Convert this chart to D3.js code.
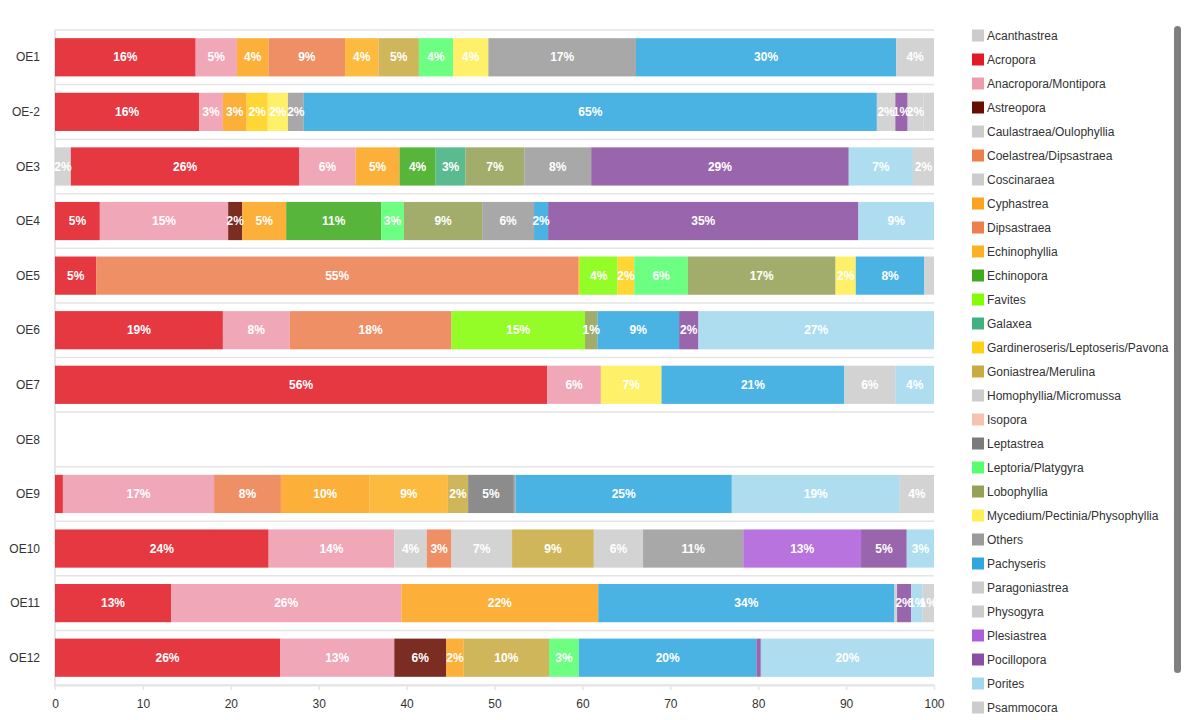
<!DOCTYPE html>
<html><head><meta charset="utf-8">
<script src="https://cdn.jsdelivr.net/npm/d3@7"></script>
<style>
html,body{margin:0;padding:0;background:#fff;}
svg{display:block;font-family:"Liberation Sans",Arial,sans-serif;}
</style></head>
<body>
<svg id="chart" width="1188" height="720"></svg>
<script>
const sites = ["OE1","OE-2","OE3","OE4","OE5","OE6","OE7","OE8","OE9","OE10","OE11","OE12"];
const species = ["Acanthastrea","Acropora","Anacropora/Montipora","Astreopora","Caulastraea/Oulophyllia",
  "Coelastrea/Dipsastraea","Coscinaraea","Cyphastrea","Dipsastraea","Echinophyllia","Echinopora","Favites",
  "Galaxea","Gardineroseris/Leptoseris/Pavona","Goniastrea/Merulina","Homophyllia/Micromussa","Isopora",
  "Leptastrea","Leptoria/Platygyra","Lobophyllia","Mycedium/Pectinia/Physophyllia","Others","Pachyseris",
  "Paragoniastrea","Physogyra","Plesiastrea","Pocillopora","Porites","Psammocora","Turbinaria"];
const colors = ["#cccccc","#e11a25","#ee9baf","#670e03","#cccccc",
  "#ed7e4e","#cccccc","#fba41d","#ed7e4e","#fcb121","#3eaa1f","#84fc06",
  "#42b181","#ffd016","#c8ab42","#cccccc","#f4c4b0",
  "#7b7b7b","#57ff6f","#94a156","#ffee54","#9b9b9b","#30a8df",
  "#cccccc","#cccccc","#ae5ed9","#8a4fa2","#a2d8ee","#cccccc","#cccccc"];
// share (%) per species, in site order OE1 ... OE12
const shares = [
  [0,0,1.8,0,0,0,0,0,0,0,0,0],              // Acanthastrea
  [16.0,16.4,26.0,5.1,4.7,19.1,56.0,0,0.9,24.3,13.2,25.6], // Acropora
  [4.7,2.7,6.4,14.6,0,7.6,6.1,0,17.2,14.3,26.2,13.0],     // Anacropora/Montipora
  [0,0,0,1.6,0,0,0,0,0,0,0,5.9],            // Astreopora
  [0,0,0,0,0,0,0,0,0,3.7,0,0],              // Caulastraea/Oulophyllia
  [0,0,0,0,0,0,0,0,7.6,2.8,0,0],            // Coelastrea/Dipsastraea
  [0,0,0,0,0,0,0,0,0,6.9,0,0],              // Coscinaraea
  [3.6,2.7,5.0,5.0,0,0,0,0,10.1,0,22.4,2.0],// Cyphastrea
  [8.7,0,0,0,54.8,18.4,0,0,0,0,0,0],        // Dipsastraea
  [3.8,0,0,0,0.2,0,0,0,8.9,0,0,0],          // Echinophyllia
  [0,0,4.1,10.8,0,0,0,0,0,0,0,0],           // Echinopora
  [0,0,0,0,4.3,15.2,0,0,0,0,0,0],           // Favites
  [0,0,3.4,0,0,0,0,0,0,0,0,0],              // Galaxea
  [0,2.4,0,0,1.9,0,0,0,0,0,0,0],            // Gardineroseris
  [4.6,0,0,0,0,0,0,0,2.3,9.3,0,9.7],        // Goniastrea/Merulina
  [0,0,0,0,0,0,0,0,0,5.6,0,0],              // Homophyllia/Micromussa
  [0,0,0,0,0,0,0,0,0,0,0,0],                // Isopora
  [0,0,0,0,0,0,0,0,5.2,0,0,0],              // Leptastrea
  [3.9,0,0,2.6,6.1,0,0,0,0,0,0,3.4],        // Leptoria/Platygyra
  [0,0,6.7,8.9,16.8,1.4,0,0,0,0,0,0],       // Lobophyllia
  [4.0,2.3,0,0,2.3,0,6.9,0,0,0,0,0],        // Mycedium
  [16.8,1.8,7.6,5.9,0,0,0,0,0.2,11.4,0,0],  // Others
  [29.6,65.2,0,1.6,7.8,9.3,20.8,0,24.6,0,33.7,20.2], // Pachyseris
  [0,2.1,0,0,1.1,0,0,0,0,0,0.3,0],          // Paragoniastrea
  [0,0,0,0,0,0,5.8,0,0,0,0,0],              // Physogyra
  [0,0,0,0,0,0,0,0,0,13.4,0,0],             // Plesiastrea
  [0,1.4,29.3,35.3,0,2.2,0,0,0,5.2,1.6,0.5],// Pocillopora
  [0,0,7.3,8.6,0,26.8,4.4,0,19.1,3.1,1.3,19.7], // Porites
  [4.3,1.8,2.4,0,0,0,0,0,3.9,0,1.3,0],      // Psammocora
  [0,1.2,0,0,0,0,0,0,0,0,0,0]               // Turbinaria
];
const xTicks = [0,10,20,30,40,50,60,70,80,90,100];

const svg = d3.select("#chart");
const m = {left:55, right:254, top:30, bottom:35};
const W = 1188, H = 720;
const x = d3.scaleLinear().domain([0,100]).range([m.left, W - m.right]);
const y = d3.scaleBand().domain(sites).range([m.top, H - m.bottom]).paddingInner(0.3).paddingOuter(0.15);
const color = d3.scaleOrdinal().domain(species).range(colors);

const table = sites.map((s,i) => {
  const row = {site:s};
  species.forEach((sp,j) => row[sp] = shares[j][i]);
  return row;
});
const stack = d3.stack().keys(species)(table);

// horizontal gridlines at band boundaries
const step = y.step();
const bounds = sites.map(s => y(s) - step*0.15).concat([y(sites[sites.length-1]) + y.bandwidth() + step*0.15]);
svg.append("g").selectAll("line").data(bounds).join("line")
  .attr("x1", x(0)).attr("x2", x(100))
  .attr("y1", d => d).attr("y2", d => d)
  .attr("stroke", "#e5e5e5").attr("stroke-width", 1.5);

// left axis line
svg.append("line").attr("x1", x(0)).attr("x2", x(0))
  .attr("y1", m.top).attr("y2", H - m.bottom + 2)
  .attr("stroke", "#e5e5e5").attr("stroke-width", 2);

// bars
const groups = svg.append("g").selectAll("g").data(stack).join("g")
  .attr("fill", d => color(d.key));
groups.selectAll("rect").data(d => d.filter(p => p[1] - p[0] > 0)).join("rect")
  .attr("x", d => x(d[0]))
  .attr("y", d => y(d.data.site))
  .attr("width", d => x(d[1]) - x(d[0]))
  .attr("height", y.bandwidth())
  .attr("fill-opacity", 0.87);

// labels
const lab = svg.append("g");
stack.forEach(layer => {
  layer.forEach(p => {
    const v = p[1] - p[0];
    if (v >= 1.25) {
      lab.append("text")
        .attr("x", (x(p[0]) + x(p[1]))/2)
        .attr("y", y(p.data.site) + y.bandwidth()/2)
        .attr("dy", "0.35em")
        .attr("text-anchor", "middle")
        .attr("fill", "#fff")
        .attr("font-weight", "bold")
        .attr("font-size", 12)
        .text(Math.round(v) + "%");
    }
  });
});

// y labels
svg.append("g").selectAll("text").data(sites).join("text")
  .attr("x", 40).attr("y", d => y(d) + y.bandwidth()/2).attr("dy", "0.35em")
  .attr("text-anchor", "end").attr("font-size", 12).attr("fill", "#333").text(d => d);

// x axis
const xa = svg.append("g").attr("transform", `translate(0,${H - m.bottom})`)
  .call(d3.axisBottom(x).tickValues(xTicks).tickSize(5).tickSizeOuter(0).tickPadding(9));
xa.select(".domain").attr("stroke", "#e5e5e5").attr("stroke-width", 2);
xa.selectAll(".tick line").attr("stroke", "#e5e5e5").attr("stroke-width", 1.5);
xa.selectAll(".tick text").attr("font-size", 12).attr("fill", "#333")
  .attr("font-family", "'Liberation Sans', Arial, sans-serif");

// legend (entries below the visible area are scrolled out of view)
const visibleLegend = species.filter((d,i) => 35.5 + i*24 < H - 6);
const lg = svg.append("g").attr("transform", "translate(972,35.5)");
const li = lg.selectAll("g").data(visibleLegend).join("g").attr("transform", (d,i) => `translate(0,${i*24})`);
li.append("rect").attr("x", 0).attr("y", -6).attr("width", 12).attr("height", 12).attr("fill", d => color(d));
li.append("text").attr("x", 15).attr("dy", "0.35em").attr("font-size", 12).attr("fill", "#333").text(d => d);

// legend scrollbar
svg.append("rect").attr("x", 1174).attr("y", 26).attr("width", 7).attr("height", 647)
  .attr("rx", 3.5).attr("fill", "#7f7f7f");
</script>
</body></html>
